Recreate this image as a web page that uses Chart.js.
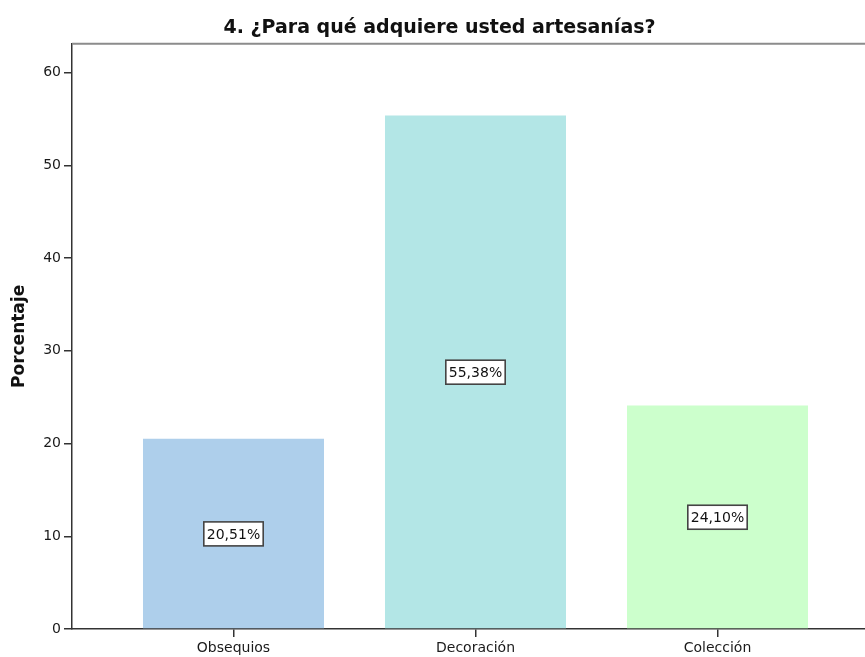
<!DOCTYPE html>
<html lang="es">
<head>
<meta charset="utf-8">
<title>Artesanías</title>
<script src="https://cdn.jsdelivr.net/npm/chart.js@4.4.0/dist/chart.umd.min.js"></script>
<style>
    html, body { margin: 0; padding: 0; background: #fff; overflow: hidden; }
    #chart { display: block; }
</style>
</head>
<body>
<canvas id="chart" width="879" height="657"></canvas>
<script>
// Datos de la pregunta 4
const categories = ['Obsequios', 'Decoración', 'Colección'];
const percentages = [20.51, 55.38, 24.10];
const barColors = ['#aecfeb', '#b3e6e6', '#ccffcc'];
const yTicks = [0, 10, 20, 30, 40, 50, 60];

const FONT = 'DejaVu Sans';
const AXIS_COLOR = '#333';

function formatPercent(v) {
    return v.toFixed(2).replace('.', ',') + '%';
}

// Etiqueta con recuadro blanco en la mitad de cada barra
const boxLabels = {
    id: 'boxLabels',
    afterDatasetsDraw(chart) {
        const ctx = chart.ctx;
        const meta = chart.getDatasetMeta(0);
        const yScale = chart.scales.y;
        ctx.save();
        ctx.font = '14px "' + FONT + '"';
        ctx.textAlign = 'center';
        ctx.textBaseline = 'middle';
        meta.data.forEach((bar, i) => {
            const value = percentages[i];
            const text = formatPercent(value);
            const cx = bar.x;
            const cy = yScale.getPixelForValue(value / 2);
            const w = ctx.measureText(text).width + 6;
            const h = 24;
            ctx.fillStyle = '#fff';
            ctx.fillRect(cx - w / 2, cy - h / 2, w, h);
            ctx.strokeStyle = '#444';
            ctx.lineWidth = 1.6;
            ctx.strokeRect(cx - w / 2, cy - h / 2, w, h);
            ctx.fillStyle = '#111';
            ctx.fillText(text, cx, cy + 1);
        });
        ctx.restore();
    }
};

// Marco superior del área de gráfico
const plotFrame = {
    id: 'plotFrame',
    beforeDatasetsDraw(chart) {
        const { ctx, chartArea } = chart;
        ctx.save();
        ctx.strokeStyle = '#8c8c8c';
        ctx.lineWidth = 2;
        ctx.beginPath();
        ctx.moveTo(chartArea.left, chartArea.top);
        ctx.lineTo(chartArea.right, chartArea.top);
        ctx.lineTo(chartArea.right, chartArea.bottom);
        ctx.stroke();
        ctx.restore();
    }
};

new Chart(document.getElementById('chart'), {
    type: 'bar',
    data: {
        datasets: [{
            data: percentages.map((v, i) => ({ x: i, y: v })),
            backgroundColor: barColors,
            borderWidth: 0,
            barPercentage: 0.748,
            categoryPercentage: 1
        }]
    },
    options: {
        responsive: false,
        animation: false,
        devicePixelRatio: 1,
        layout: { padding: 0 },
        plugins: {
            legend: { display: false },
            tooltip: { enabled: false },
            title: {
                display: true,
                text: '4. ¿Para qué adquiere usted artesanías?',
                color: '#111',
                font: { family: FONT, size: 19, weight: 'bold' },
                padding: { top: 17, bottom: 4 }
            }
        },
        scales: {
            x: {
                type: 'linear',
                offset: false,
                min: -0.5 - 40.5 / 242,
                max: 2.5 + 40.5 / 242,
                afterBuildTicks: axis => { axis.ticks = categories.map((c, i) => ({ value: i })); },
                afterFit: axis => { axis.height = 28; },
                border: { color: AXIS_COLOR, width: 1.5 },
                grid: { offset: false, drawOnChartArea: false, tickLength: 8, color: AXIS_COLOR, lineWidth: 1.5 },
                ticks: {
                    padding: 3,
                    color: '#1a1a1a',
                    font: { family: FONT, size: 14 },
                    maxRotation: 0,
                    callback: v => categories[v]
                }
            },
            y: {
                min: 0,
                max: 63.1,
                afterBuildTicks: axis => { axis.ticks = yTicks.map(v => ({ value: v })); },
                afterFit: axis => { axis.width = 72; },
                border: { color: AXIS_COLOR, width: 1.5 },
                grid: { drawOnChartArea: false, tickLength: 8, color: AXIS_COLOR, lineWidth: 1.5 },
                ticks: {
                    padding: 3,
                    color: '#1a1a1a',
                    font: { family: FONT, size: 14 }
                },
                title: {
                    display: true,
                    text: 'Porcentaje',
                    color: '#111',
                    font: { family: FONT, size: 17, weight: 'bold' },
                    padding: { top: 9, bottom: 0 }
                }
            }
        }
    },
    plugins: [plotFrame, boxLabels]
});
</script>
</body>
</html>
